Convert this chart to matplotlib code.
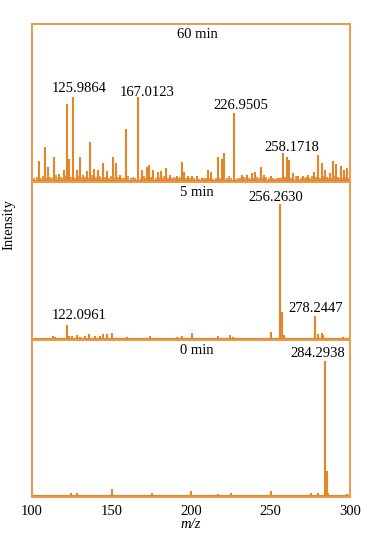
import matplotlib
matplotlib.use('Agg')
import matplotlib.pyplot as plt

plt.rcParams['font.family'] = ['Liberation Serif', 'DejaVu Serif']

# ---- 60 min spectrum (relative intensity, base peak = 100) ----
mz_60 = [104.8, 108.4, 110.4, 114.2, 117.3, 120.5, 122.0, 123.4, 125.9864, 128.3,
         130.3, 132.4, 134.5, 136.6, 139.3, 141.8, 145.0, 147.5, 150.9, 153.0,
         155.5, 159.2, 167.0123, 169.5, 172.2, 173.7, 176.4, 179.2, 181.2, 184.2,
         186.9, 191.1, 194.2, 195.9, 198.4, 200.9, 203.7, 206.8, 210.6, 212.7,
         216.9, 219.4, 221.0, 226.9505, 232.3, 235.1, 238.2, 240.3, 243.9, 246.0,
         250.2, 255.6, 258.1718, 260.2, 261.9, 264.4, 267.5, 270.7, 273.8, 277.4,
         280.1, 282.2, 284.3, 287.4, 289.1, 291.2, 294.2, 296.2, 298.3]
int_60 = [24, 40, 17, 29, 8, 13, 92, 26, 100, 13,
          29, 7, 12, 46, 14, 13, 21, 12, 29, 21,
          7, 62, 100, 13, 17, 19, 13, 11, 12, 15,
          7, 6, 23, 11, 6, 6, 6, 4, 13, 11,
          29, 26, 33, 81, 7, 7, 10, 11, 17, 7,
          6, 4, 33, 29, 25, 10, 6, 6, 7, 11,
          31, 21, 13, 10, 24, 20, 18, 13, 15]
# low-level background peaks of the 60 min spectrum
noise_mz_60 = [101.5, 103.2, 106.0, 107.4, 109.1, 111.8, 113.0, 115.5, 116.6, 118.4,
               119.9, 121.2, 124.6, 127.0, 129.4, 131.2, 133.3, 135.6, 137.8, 138.5,
               140.4, 143.1, 144.2, 146.3, 148.6, 149.7, 152.1, 154.2, 156.8, 157.9,
               160.6, 162.3, 163.8, 165.2, 168.4, 170.6, 171.1, 174.9, 175.6, 177.8,
               180.3, 182.6, 183.4, 185.5, 188.1, 189.6, 190.4, 192.5, 193.4, 197.2,
               199.6, 202.2, 205.1, 208.3, 209.4, 211.8, 214.2, 215.6, 218.2, 220.3,
               222.6, 224.1, 225.3, 228.4, 229.6, 230.8, 233.6, 234.4, 236.7, 237.4,
               239.2, 241.5, 242.6, 245.1, 247.3, 248.9, 251.6, 252.8, 254.3, 256.9,
               259.3, 262.7, 263.5, 265.8, 266.6, 268.9, 271.8, 272.6, 275.0, 276.2,
               278.6, 281.0, 283.4, 285.6, 286.2, 288.3, 290.2, 292.6, 293.3, 295.4,
               297.1, 299.2]
noise_int_60 = [3, 5, 4, 6, 3, 5, 4, 7, 3, 5,
                4, 6, 5, 3, 6, 4, 5, 3, 7, 4,
                5, 6, 3, 5, 4, 6, 3, 5, 4, 3,
                6, 4, 5, 3, 4, 6, 3, 5, 4, 3,
                5, 3, 6, 4, 3, 5, 4, 3, 5, 3,
                4, 3, 2, 3, 4, 3, 2, 4, 3, 5,
                4, 6, 3, 2, 4, 3, 5, 3, 4, 2,
                3, 5, 4, 3, 5, 4, 3, 2, 3, 4,
                5, 3, 4, 6, 3, 4, 3, 5, 4, 6,
                5, 4, 6, 5, 3, 4, 6, 5, 3, 4,
                5, 3]

# ---- 5 min spectrum ----
mz_5 = [103.1, 113.6, 114.6, 122.0961, 123.6, 125.1, 128.3, 130.3, 133.5, 136.2,
        139.8, 142.9, 145.0, 147.5, 150.3, 159.7, 174.3, 191.1, 194.2, 200.5,
        217.2, 224.6, 226.7, 250.2, 256.2630, 257.3, 258.4, 278.2447, 280.1, 282.2,
        283.2, 295.8]
int_5 = [1, 2.2, 1.5, 10.4, 2.2, 2.2, 3, 1.5, 2.2, 3.7,
         2.2, 2.2, 3.7, 3.7, 4.4, 1.5, 2.2, 1.5, 2.2, 4.8,
         2.5, 3, 1.5, 5.5, 100, 20, 3, 17, 3.7, 4.4,
         3, 1.5]

# ---- 0 min spectrum ----
mz_0 = [124.5, 128.3, 150.3, 175.4, 200.1, 217.2, 225.0, 250.2, 275.3, 280.1,
        284.2938, 285.3, 286.4, 298.0]
int_0 = [2.2, 1.5, 4.5, 2.2, 3.7, 0.8, 2.2, 3.7, 2.2, 1.5,
         100, 18, 1.5, 0.8]

panel_titles = ['60 min', '5 min', '0 min']
# labelled peaks per panel: (m/z, text offset x in pt, text offset y in pt)
labels_60 = [(125.9864, 4.5, 3.6), (167.0123, 6.0, 0.7), (226.9505, 5.2, 2.9), (258.1718, 5.8, 1.4)]
labels_5 = [(122.0961, 8.6, 4.3), (256.2630, -3.6, 2.2), (278.2447, 0.0, 2.9)]
labels_0 = [(284.2938, -5.0, 2.9)]

peak_color = '#E4852A'
frame_color = '#EC9A48'

fig = plt.figure(figsize=(3.87, 5.37), dpi=100)
left, width = 0.0819, 0.8225
bounds = [(0.6611, 0.9553), (0.3669, 0.6611), (0.0754, 0.3669)]
ylims = [(-1.2, 187), (-0.7, 116.3), (-0.75, 115.7)]
series = [(mz_60, int_60, labels_60), (mz_5, int_5, labels_5), (mz_0, int_0, labels_0)]

axes = []
for i, ((b, t), (mzs, ints, labs)) in enumerate(zip(bounds, series)):
    ax = fig.add_axes([left, b, width, t - b])
    axes.append(ax)
    if i == 0:
        ax.vlines(noise_mz_60, 0, noise_int_60, color=peak_color, lw=1.2)
    ax.vlines(mzs, 0, ints, color=peak_color, lw=1.5)
    ax.axhline(0, color=peak_color, lw=1.5)
    ax.set_xlim(100, 300)
    ax.set_ylim(*ylims[i])
    ax.set_yticks([])
    for sp in ax.spines.values():
        sp.set_color(frame_color)
        sp.set_linewidth(1.4)
    ax.text(204, 0.975, panel_titles[i], transform=ax.get_xaxis_transform(),
            ha='center', va='top', fontsize=10.5)
    for mz, dx, dy in labs:
        h = ints[mzs.index(mz)]
        ax.annotate('%.4f' % mz, xy=(mz, h), xytext=(dx, dy), textcoords='offset points',
                    ha='center', va='baseline', fontsize=10.5)
    if i < 2:
        ax.set_xticks([])
    else:
        ax.set_xticks([100, 150, 200, 250, 300])
        ax.tick_params(axis='x', length=0, pad=6, labelsize=10.5)
        ax.set_xlabel('m/z', fontstyle='italic', fontsize=10.5, labelpad=0)

fig.text(9 / 387, 1 - 225 / 537, 'Intensity', rotation=90, ha='center', va='center', fontsize=10.5)

fig.savefig('out.png', dpi=100)
